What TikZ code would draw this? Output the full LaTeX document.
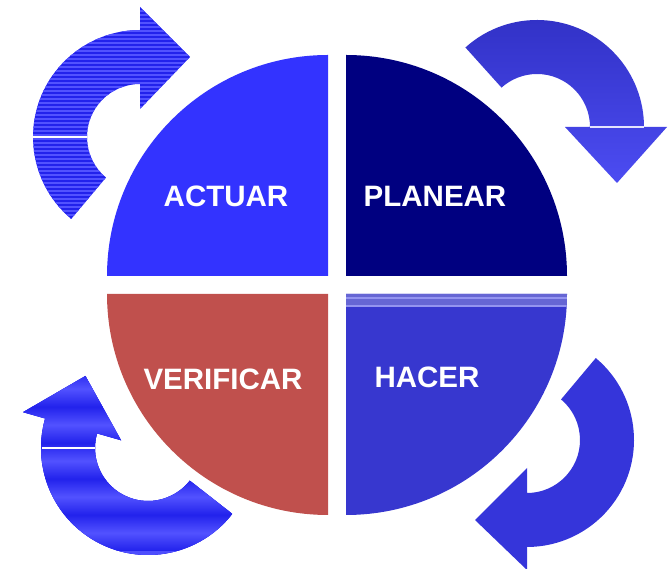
\documentclass[tikz,border=0pt]{standalone}
\usepackage{fontspec}
\setmainfont{Liberation Sans}
\definecolor{actuarblue}{HTML}{3333FF}
\definecolor{planearnavy}{HTML}{000080}
\definecolor{verificarred}{HTML}{C0504D}
\definecolor{hacerblue}{HTML}{3737CF}
\definecolor{hacerband}{HTML}{6666D4}
\definecolor{hacerline}{HTML}{9494F0}
\definecolor{arrowdark}{HTML}{2222EC}
\definecolor{arrowlight}{HTML}{5252FF}
\definecolor{arrowtop}{HTML}{3030C4}
\definecolor{arrowbottom}{HTML}{4C4CF2}
\definecolor{arrowmid}{HTML}{3535DA}
\begin{document}
\begin{tikzpicture}[x=1pt, y=1pt,
  phase/.style={inner sep=0pt, text=white, font=\fontsize{29.5}{32}\selectfont\bfseries},
  highlight/.style={draw=white, line width=1.4pt}]
\useasboundingbox (0,0) rectangle (669,569);
% Quadrants
\fill[actuarblue] (328,293) -- ++(90:221) arc[start angle=90, end angle=180, radius=221] -- cycle;
\fill[planearnavy] (346,293) -- ++(0:221) arc[start angle=0, end angle=90, radius=221] -- cycle;
\fill[verificarred] (328,275) -- ++(180:221) arc[start angle=180, end angle=270, radius=221] -- cycle;
\fill[hacerblue] (346,275) -- ++(270:221) arc[start angle=270, end angle=360, radius=221] -- cycle;
% Light bands on top of HACER
\begin{scope}
\clip (346,275) -- ++(0:221) arc[start angle=0, end angle=-90, radius=221] -- cycle;
\fill[hacerband] (346,262) rectangle (580,276);
\draw[hacerline, line width=1.6pt] (346,271) -- (580,271);
\draw[hacerline, line width=1.6pt] (346,263) -- (580,263);
\end{scope}
% Arrow round ACTUAR, thin stripes
\begin{scope}[shift={(140,432)}]
\fill[arrowdark, path picture={
    \foreach \k in {0,...,58}
      \draw[arrowlight, line width=1.6pt] ([yshift=\k*4pt]path picture bounding box.south west)
        -- ([yshift=\k*4pt]path picture bounding box.south east);
  }] (230:107) arc[start angle=230, end angle=90, radius=107] -- (90:130)
  -- ([shift={(0:50)}]90:80) -- (90:28) -- (90:53) arc[start angle=90, end angle=230, radius=53] -- cycle;
\draw[highlight] (180:53) -- (180:107);
\end{scope}
% Arrow round PLANEAR
\begin{scope}[shift={(537,442)}]
\path[top color=arrowtop, bottom color=arrowbottom] (132:107) arc[start angle=132, end angle=0, radius=107] -- (0:130)
  -- ([shift={(-90:56)}]0:80) -- (0:28) -- (0:53) arc[start angle=0, end angle=132, radius=53] -- cycle;
\draw[highlight, draw=white!85!arrowbottom] (0:53) -- (0:107);
\end{scope}
% Arrow round HACER
\begin{scope}[shift={(527,129)}]
\fill[arrowmid] (50:107) arc[start angle=50, end angle=-90, radius=107] -- (-90:130)
  -- ([shift={(180:52)}]-90:80) -- (-90:28) -- (-90:53) arc[start angle=-90, end angle=50, radius=53] -- cycle;
\end{scope}
% Arrow round VERIFICAR, broad bands
\begin{scope}[shift={(148,121)}]
\fill[arrowdark, path picture={
    \foreach \k in {0,...,5} {
      \fill[top color=arrowdark, bottom color=arrowlight] ([yshift=\k*36pt]path picture bounding box.south west)
        rectangle ([yshift=\k*36pt+18pt]path picture bounding box.south east);
      \fill[top color=arrowlight, bottom color=arrowdark] ([yshift=\k*36pt+18pt]path picture bounding box.south west)
        rectangle ([yshift=\k*36pt+36pt]path picture bounding box.south east);
    }
  }] (-38:107) arc[start angle=-38, end angle=-196, radius=107] -- (-196:130)
  -- ([shift={(-286:52)}]-196:80) -- (-196:28) -- (-196:53) arc[start angle=-196, end angle=-38, radius=53] -- cycle;
\draw[highlight] (180:53) -- (180:106);
\end{scope}
% Labels
\node[phase] (actuar) at (226,373) {ACTUAR};
\node[phase] (planear) at (435,373) {PLANEAR};
\node[phase] (verificar) at (223,190) {VERIFICAR};
\node[phase] (hacer) at (427,192) {HACER};
\end{tikzpicture}
\end{document}
